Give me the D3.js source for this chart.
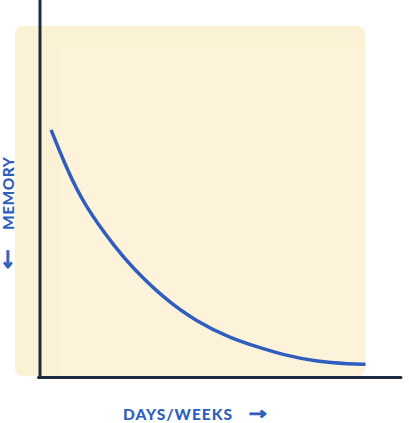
<!DOCTYPE html>
<html>
<head>
<meta charset="utf-8">
<script src="https://cdn.jsdelivr.net/npm/d3@7"></script>
<style>
  html, body { margin: 0; padding: 0; background: #ffffff; }
  svg { display: block; }
  text { font-family: Lato, "Open Sans", "DejaVu Sans", sans-serif; font-weight: 900; }
</style>
</head>
<body>
<svg id="chart" width="409" height="423"></svg>
<script>
// ---- data ----
const timeValues   = [0.34, 0.77, 1.35, 2.37, 2.77, 3.78, 4.83, 5.85, 6.77, 7.48, 8.52, 9.54, 10.0];
const memoryValues = [70.9, 60.9, 49.4, 36.6, 32.3, 22.9, 16.0, 11.4, 8.6, 6.6, 4.6, 4.0, 3.9];
const xLabel = "DAYS/WEEKS";
const yLabel = "MEMORY";
const xDomain = [0, 10];
const yDomain = [0, 100];

const svg = d3.select("#chart");

const x = d3.scaleLinear().domain(xDomain).range([40, 365.5]);
const y = d3.scaleLinear().domain(yDomain).range([378, 28]);

// background panel
svg.append("rect")
  .attr("x", 15).attr("y", 26)
  .attr("width", 350).attr("height", 350)
  .attr("rx", 8).attr("ry", 8)
  .attr("fill", "#fbf2d6");
// faint inner panel
svg.append("rect")
  .attr("x", 59).attr("y", 48)
  .attr("width", 306).attr("height", 328)
  .attr("rx", 8).attr("ry", 8)
  .attr("fill", "#fcf3da");

// curve
const data = timeValues.map((t, i) => ({ t, m: memoryValues[i] }));
const line = d3.line()
  .x(d => x(d.t))
  .y(d => y(d.m))
  .curve(d3.curveBasis);
svg.append("path")
  .datum(data)
  .attr("d", line)
  .attr("fill", "none")
  .attr("stroke", "#2f5ebe")
  .attr("stroke-width", 3.5);

// axes lines
const axisColor = "#1e2a40";
svg.append("line")
  .attr("x1", x(0)).attr("x2", x(0))
  .attr("y1", 0).attr("y2", 379)
  .attr("stroke", axisColor).attr("stroke-width", 3);
svg.append("line")
  .attr("x1", 38.5).attr("x2", 401)
  .attr("y1", y(0) - 0.5).attr("y2", y(0) - 0.5)
  .attr("stroke", axisColor).attr("stroke-width", 3)
  .attr("stroke-linecap", "round");

// labels
const labelColor = "#2f5ebe";
svg.append("text")
  .attr("x", 123).attr("y", 420)
  .attr("fill", labelColor)
  .attr("font-size", 15.5)
  .attr("textLength", 109)
  .attr("lengthAdjust", "spacing")
  .text(xLabel);
svg.append("text")
  .attr("transform", "translate(248.5,418.5) scale(1.3,1)")
  .attr("x", 0).attr("y", 0)
  .attr("fill", labelColor)
  .attr("font-size", 17)
  .attr("stroke", labelColor)
  .attr("stroke-width", 0.6)
  .style("font-family", "'DejaVu Sans', sans-serif")
  .style("font-weight", 700)
  .text("\u2192");

const yl = svg.append("g").attr("transform", "translate(14,230) rotate(-90)");
yl.append("text")
  .attr("x", 0).attr("y", 0)
  .attr("fill", labelColor)
  .attr("font-size", 15.5)
  .attr("textLength", 73)
  .attr("lengthAdjust", "spacing")
  .text(yLabel);
svg.append("text")
  .attr("transform", "translate(8,267.5) scale(1,1.25)")
  .attr("x", 0).attr("y", 0)
  .attr("text-anchor", "middle")
  .attr("fill", labelColor)
  .attr("font-size", 19)
  .attr("stroke", labelColor)
  .attr("stroke-width", 0.6)
  .style("font-family", "'DejaVu Sans', sans-serif")
  .style("font-weight", 700)
  .text("\u2193");
</script>
</body>
</html>
